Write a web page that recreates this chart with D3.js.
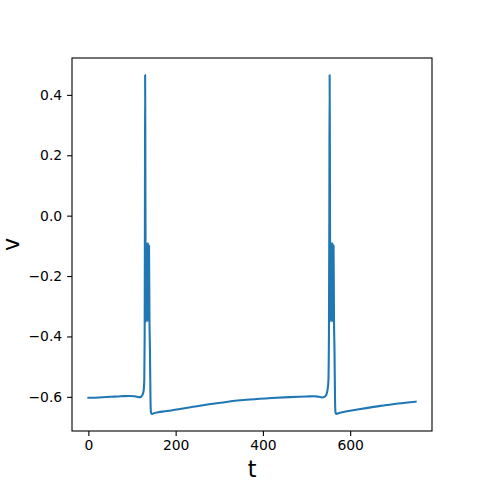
<!DOCTYPE html>
<html>
<head>
<meta charset="utf-8">
<script src="https://cdn.jsdelivr.net/npm/d3@7"></script>
<style>
  body { margin: 0; background: #fff; }
  text { font-family: "DejaVu Sans", sans-serif; fill: #000; }
</style>
</head>
<body>
<script>
// tiempo
const tiempo = [0, 25, 50, 75, 95, 105, 112, 118, 122, 125, 127, 128.2, 129, 129.6, 130.1, 130.6, 131.2,
  132, 133, 134, 135, 136, 137, 138, 139, 140, 141.2, 142.3, 143.3, 145, 150, 160, 175, 190, 210,
  240, 280, 320, 370, 420, 460, 500, 518, 528, 536, 541, 545, 548, 550, 551.3, 552.2, 552.9, 553.5,
  554.1, 554.9, 555.9, 556.9, 557.9, 558.9, 559.9, 560.9, 561.9, 562.9, 564.1, 565.2, 566.2, 567.5,
  573, 585, 600, 620, 650, 680, 710, 750]

// voltaje
const voltaje = [-0.603, -0.602, -0.600, -0.598, -0.597, -0.598, -0.600, -0.601, -0.598, -0.590, -0.575,
  -0.54, -0.40, 0.0, 0.466, 0.20, -0.20,
  -0.35, -0.09, -0.35, -0.09, -0.35, -0.09, -0.35, -0.10, -0.34, -0.45, -0.60, -0.650, -0.657, -0.654,
  -0.651, -0.648, -0.645, -0.640,
  -0.633, -0.624, -0.616, -0.609, -0.604, -0.601, -0.599, -0.598, -0.600, -0.602, -0.600, -0.594,
  -0.578, -0.55, -0.40, 0.0, 0.466, 0.20,
  -0.20, -0.35, -0.09, -0.35, -0.09, -0.35, -0.09, -0.35, -0.10, -0.34, -0.45, -0.60, -0.650, -0.657,
  -0.654, -0.650, -0.646, -0.641, -0.634, -0.628, -0.622, -0.616]

const ticksX = [0, 200, 400, 600]
const ticksY = [-0.6, -0.4, -0.2, 0.0, 0.2, 0.4]

const datos = tiempo.map((t, i) => ({t: t, v: voltaje[i]}))

var margin = {top: 58, right: 48, bottom: 53, left: 72}
var width = 480 - margin.left - margin.right
var height = 484 - margin.top - margin.bottom

var svg = d3.select("body")
  .append("svg")
    .attr("width", 480)
    .attr("height", 484)

var g = svg.append("g")
  .attr("transform", "translate(" + margin.left + "," + margin.top + ")")

// escalas con el 5% de margen de matplotlib
var tMin = d3.min(tiempo), tMax = d3.max(tiempo)
var vMin = d3.min(voltaje), vMax = d3.max(voltaje)
var x = d3.scaleLinear()
  .domain([tMin - 0.05 * (tMax - tMin), tMax + 0.05 * (tMax - tMin)])
  .range([0, width])
var y = d3.scaleLinear()
  .domain([vMin - 0.05 * (vMax - vMin), vMax + 0.05 * (vMax - vMin)])
  .range([height, 0])

const fmt = d => d3.format(".1f")(d).replace("-", "\u2212")

//EJE X
g.append("g")
  .attr("transform", "translate(0," + height + ")")
  .call(d3.axisBottom(x).tickValues(ticksX).tickSize(4.9).tickPadding(4.2).tickFormat(d3.format("d")))
  .call(a => a.select(".domain").remove())
  .call(a => a.selectAll("line").attr("stroke", "#000").attr("stroke-width", 1.1))
  .call(a => a.selectAll("text").attr("font-size", "13.9px").attr("font-family", "DejaVu Sans").attr("fill", "#000"))

//EJE Y
g.append("g")
  .call(d3.axisLeft(y).tickValues(ticksY).tickSize(4.9).tickPadding(4.9).tickFormat(fmt))
  .call(a => a.select(".domain").remove())
  .call(a => a.selectAll("line").attr("stroke", "#000").attr("stroke-width", 1.1))
  .call(a => a.selectAll("text").attr("font-size", "13.9px").attr("font-family", "DejaVu Sans").attr("fill", "#000"))

// Línea
const linea = d3.line()
  .x(d => x(d.t))
  .y(d => y(d.v))
  .curve(d3.curveMonotoneX)

g.append("path")
  .datum(datos)
  .attr("fill", "none")
  .attr("stroke", "#1f77b4")
  .attr("stroke-width", 2.08)
  .attr("stroke-linejoin", "round")
  .attr("stroke-linecap", "square")
  .attr("d", linea)

// marco
g.append("rect")
  .attr("width", width)
  .attr("height", height)
  .attr("fill", "none")
  .attr("stroke", "#000")
  .attr("stroke-width", 1.1)

// etiquetas
svg.append("text")
  .attr("x", margin.left + width / 2)
  .attr("y", 477)
  .attr("text-anchor", "middle")
  .attr("font-size", "22.2px")
  .text("t")

svg.append("text")
  .attr("transform", "translate(18.5," + (margin.top + height / 2) + ") rotate(-90)")
  .attr("text-anchor", "middle")
  .attr("font-size", "22.2px")
  .text("v")
</script>
</body>
</html>
